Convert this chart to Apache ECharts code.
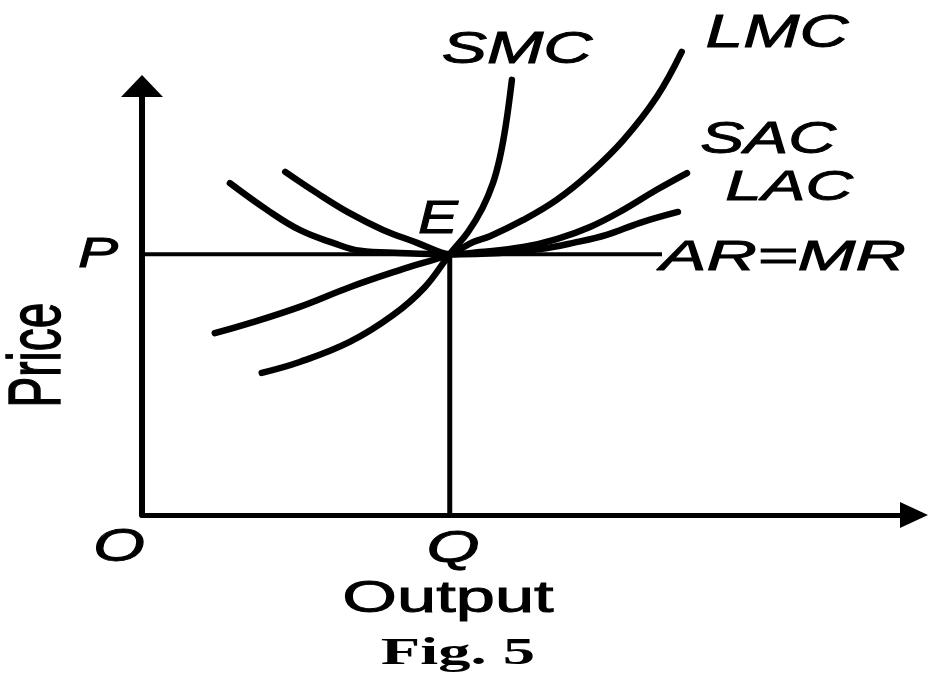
<!DOCTYPE html>
<html>
<head>
<meta charset="utf-8">
<title>Fig. 5</title>
<script src="https://cdn.jsdelivr.net/npm/echarts@6/dist/echarts.min.js"></script>
<style>
html, body { margin: 0; padding: 0; background: #fff; }
#chart { width: 928px; height: 679px; }
</style>
</head>
<body>
<div id="chart"></div>
<script>
// equilibrium point E and the AR=MR line
var priceP = 62.4;
var outputQ = 40.6;
var arMrEnd = 68.6;

// cost curves (x = output, y = price)
var smcPoints = [[15.8, 34.0], [20.8, 36.6], [27.4, 41.4], [33.1, 47.8], [37.3, 54.5], [40.6, 62.4],
  [43.0, 67.7], [44.9, 73.4], [46.3, 79.4], [47.2, 85.4], [48.0, 93.3], [48.8, 104.1]];
var lmcPoints = [[9.6, 43.5], [14.2, 45.9], [20.8, 49.8], [27.4, 54.5], [34.0, 58.6], [40.6, 62.4],
  [43.7, 65.3], [45.9, 66.7], [50.3, 70.6], [54.7, 75.4], [59.1, 81.8], [63.5, 89.7], [67.9, 100.0], [71.2, 110.8]];
var sacPoints = [[18.9, 82.1], [23.1, 77.0], [27.4, 72.2], [31.8, 68.2], [36.3, 65.1], [39.3, 62.9], [40.6, 62.4],
  [44.6, 62.9], [50.3, 64.1], [54.7, 66.0], [59.1, 68.9], [63.5, 73.0], [67.9, 77.8], [71.9, 81.8]];
var lacPoints = [[11.6, 79.4], [16.5, 73.0], [20.8, 68.2], [25.2, 65.1], [28.8, 63.2], [34.0, 62.7], [40.6, 62.4],
  [47.2, 62.7], [52.5, 63.6], [56.9, 65.1], [61.3, 67.0], [65.7, 69.9], [70.7, 72.5]];

var chart = echarts.init(document.getElementById('chart'));

function curve(name, points) {
  return {
    name: name,
    type: 'line',
    data: points,
    smooth: 0.4,
    symbol: 'none',
    clip: false,
    lineStyle: { color: '#000', width: 6.5, cap: 'round' }
  };
}

function straight(name, points, width) {
  return {
    name: name,
    type: 'line',
    data: points,
    symbol: 'none',
    clip: false,
    lineStyle: { color: '#000', width: width }
  };
}

// text in the figure is stretched sideways, so scale it
function label(text, x, y, size, sx, opts) {
  opts = opts || {};
  return {
    type: 'text',
    x: x,
    y: y,
    scaleX: opts.rotation ? 1 : sx,
    scaleY: opts.rotation ? sx : 1,
    rotation: opts.rotation || 0,
    z: 100,
    style: {
      text: text,
      fill: '#000',
      stroke: '#000',
      lineWidth: opts.bold ? 0 : 0.9,
      fontSize: size,
      fontFamily: opts.family || 'Liberation Sans',
      fontStyle: opts.italic === false ? 'normal' : 'italic',
      fontWeight: opts.bold ? 'bold' : 'normal',
      align: 'center',
      verticalAlign: 'middle',
      textAlign: 'center',
      textVerticalAlign: 'middle'
    }
  };
}

var option = {
  animation: false,
  backgroundColor: '#fff',
  grid: { left: 142, right: 28, top: 97, bottom: 164 },
  xAxis: {
    type: 'value',
    min: 0,
    max: 100,
    axisLine: {
      show: true,
      onZero: false,
      symbol: ['none', 'triangle'],
      symbolSize: [26, 28],
      symbolOffset: [0, 14],
      lineStyle: { color: '#000', width: 5 }
    },
    axisTick: { show: false },
    axisLabel: { show: false },
    splitLine: { show: false }
  },
  yAxis: {
    type: 'value',
    min: 0,
    max: 100,
    axisLine: {
      show: true,
      onZero: false,
      symbol: ['none', 'triangle'],
      symbolSize: [42, 22],
      symbolOffset: [0, 11],
      lineStyle: { color: '#000', width: 6 }
    },
    axisTick: { show: false },
    axisLabel: { show: false },
    splitLine: { show: false }
  },
  series: [
    straight('AR=MR', [[0, priceP], [arMrEnd, priceP]], 4),
    straight('Q', [[outputQ, 0], [outputQ, priceP]], 5),
    curve('LAC', lacPoints),
    curve('SAC', sacPoints),
    curve('LMC', lmcPoints),
    curve('SMC', smcPoints)
  ],
  graphic: [
    label('SMC', 517, 51, 44, 1.54),
    label('LMC', 777, 34, 46, 1.47),
    label('SAC', 768, 141, 44, 1.5),
    label('LAC', 789, 188, 42, 1.56),
    label('AR=MR', 783, 258, 43, 1.62),
    label('E', 438, 220, 46, 1.3),
    label('P', 98, 255, 42, 1.43),
    label('O', 119, 548, 46, 1.45),
    label('Q', 453, 550, 44, 1.55),
    label('Output', 448, 600, 44, 1.6, { italic: false }),
    label('Price', 40, 355, 46, 1.6, { italic: false, rotation: Math.PI / 2 }),
    label('Fig. 5', 458, 654, 38, 1.7, { italic: false, bold: true, family: 'Liberation Serif' })
  ]
};

chart.setOption(option);
</script>
</body>
</html>
